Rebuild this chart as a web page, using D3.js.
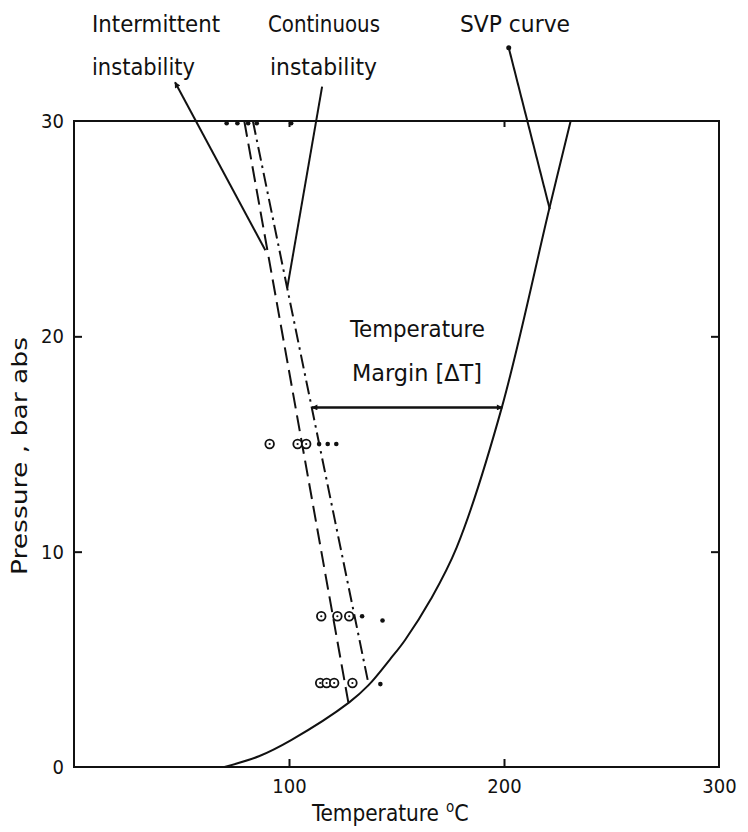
<!DOCTYPE html>
<html>
<head>
<meta charset="utf-8">
<script src="https://d3js.org/d3.v7.min.js"></script>
<style>
  body { margin: 0; background: #fff; }
  svg text { font-family: "DejaVu Sans Condensed", "DejaVu Sans", sans-serif; font-stretch: condensed; fill: #111; }
</style>
</head>
<body>
<svg id="chart" width="748" height="832"></svg>
<script>
// saturated vapour pressure curve (T in degC, P in bar abs)
var svpT = [70, 86, 101, 128, 137, 147, 154, 166, 178, 199, 221, 231];
var svpP = [0, 0.5, 1.25, 3.0, 3.8, 5.0, 5.9, 7.8, 10.2, 16.7, 25.9, 30];

// instability boundaries
var intermittentT = [79.2, 127.6];
var intermittentP = [30, 3.0];
var continuousT = [83.2, 137.1];
var continuousP = [30, 3.8];

// observed points: open circles and solid dots
var circleT = [91, 104, 108, 115, 122.5, 128, 114.5, 117.5, 121, 129.5];
var circleP = [15, 15, 15, 7, 7, 7, 3.9, 3.9, 3.9, 3.9];
var dotT = [71, 76, 81, 85, 101, 114, 118, 122, 134, 143.5, 142.5];
var dotP = [29.9, 29.9, 29.9, 29.9, 29.9, 15, 15, 15, 7, 6.8, 3.85];

// leader lines from the labels
var leaderIntT = [47, 89], leaderIntP = [31.8, 24.0];
var leaderConT = [115.4, 99.2], leaderConP = [31.6, 22.25];
var leaderSvpT = [202.2, 221.3], leaderSvpP = [33.4, 25.9];

// temperature margin arrow
var marginP = 16.7, marginFrom = 110.7, marginTo = 199.2;

var xTicks = [100, 200, 300];
var yTicks = [0, 10, 20, 30];

var svg = d3.select("#chart");
var x = d3.scaleLinear().domain([0, 300]).range([74, 719]);
var y = d3.scaleLinear().domain([0, 30]).range([767, 121]);

function pts(ts, ps) {
  return ts.map(function(t, i) { return [t, ps[i]]; });
}
var line = d3.line().x(function(d) { return x(d[0]); }).y(function(d) { return y(d[1]); });

// arrow heads
var defs = svg.append("defs");
defs.append("marker")
  .attr("id", "head")
  .attr("viewBox", "0 0 10 10")
  .attr("refX", 9).attr("refY", 5)
  .attr("markerWidth", 12).attr("markerHeight", 6)
  .attr("markerUnits", "userSpaceOnUse")
  .attr("orient", "auto-start-reverse")
  .append("path").attr("d", "M0,0L10,5L0,10z").attr("fill", "#111");
defs.append("marker")
  .attr("id", "small")
  .attr("viewBox", "0 0 10 10")
  .attr("refX", 9).attr("refY", 5)
  .attr("markerWidth", 8).attr("markerHeight", 6)
  .attr("markerUnits", "userSpaceOnUse")
  .attr("orient", "auto-start-reverse")
  .append("path").attr("d", "M0,0L10,5L0,10z").attr("fill", "#111");

// frame
svg.append("rect")
  .attr("x", x(0)).attr("y", y(30))
  .attr("width", x(300) - x(0)).attr("height", y(0) - y(30))
  .attr("fill", "none").attr("stroke", "#111").attr("stroke-width", 2);

// axes (ticks point inwards)
var gx = svg.append("g").attr("transform", "translate(0," + y(0) + ")")
  .call(d3.axisBottom(x).tickValues(xTicks).tickSizeInner(-8).tickSizeOuter(0).tickPadding(12));
var gy = svg.append("g").attr("transform", "translate(" + x(0) + ",0)")
  .call(d3.axisLeft(y).tickValues(yTicks).tickSizeInner(-8).tickSizeOuter(0).tickPadding(10));
var gr = svg.append("g").attr("transform", "translate(" + x(300) + ",0)")
  .call(d3.axisRight(y).tickValues([10, 20]).tickSizeInner(-8).tickSizeOuter(0).tickFormat(""));
var gt = svg.append("g").attr("transform", "translate(0," + y(30) + ")")
  .call(d3.axisTop(x).tickValues([100, 200]).tickSizeInner(-6).tickSizeOuter(0).tickFormat(""));
[gx, gy, gr, gt].forEach(function(g) {
  g.select(".domain").remove();
  g.selectAll("line").attr("stroke", "#111").attr("stroke-width", 2);
  g.selectAll("text").attr("font-size", 20).attr("fill", "#111")
    .attr("font-family", null);
});
gx.selectAll(".tick").filter(function(d) { return d === 300; }).select("line").remove();
gy.selectAll(".tick").filter(function(d) { return d === 0 || d === 30; }).select("line").remove();

// axis titles
svg.append("text")
  .attr("transform", "translate(27,456) rotate(-90)")
  .attr("text-anchor", "middle").attr("font-size", 21)
  .attr("textLength", 238).attr("lengthAdjust", "spacingAndGlyphs")
  .text("Pressure , bar abs");
svg.append("text")
  .attr("x", 312).attr("y", 821).attr("font-size", 23)
  .attr("textLength", 127).attr("lengthAdjust", "spacingAndGlyphs")
  .text("Temperature");
var deg = svg.append("text")
  .attr("x", 446).attr("y", 821).attr("font-size", 23);
deg.append("tspan").attr("dy", -9).attr("font-size", 15).text("o");
deg.append("tspan").attr("dy", 9).text("C");

// SVP curve
svg.append("path")
  .datum(pts(svpT, svpP))
  .attr("d", line.curve(d3.curveCatmullRom.alpha(0.5)))
  .attr("fill", "none").attr("stroke", "#111").attr("stroke-width", 2);
line.curve(d3.curveLinear);

// instability lines
svg.append("path")
  .datum(pts(intermittentT, intermittentP))
  .attr("d", line)
  .attr("fill", "none").attr("stroke", "#111").attr("stroke-width", 2)
  .attr("stroke-dasharray", "16,7");
svg.append("path")
  .datum(pts(continuousT, continuousP))
  .attr("d", line)
  .attr("fill", "none").attr("stroke", "#111").attr("stroke-width", 2)
  .attr("stroke-dasharray", "14,5,2.5,5");

// leaders
svg.append("path")
  .datum(pts(leaderIntT, leaderIntP))
  .attr("d", line)
  .attr("fill", "none").attr("stroke", "#111").attr("stroke-width", 2)
  .attr("marker-start", "url(#small)");
svg.append("path")
  .datum(pts(leaderConT, leaderConP))
  .attr("d", line)
  .attr("fill", "none").attr("stroke", "#111").attr("stroke-width", 2);
svg.append("path")
  .datum(pts(leaderSvpT, leaderSvpP))
  .attr("d", line)
  .attr("fill", "none").attr("stroke", "#111").attr("stroke-width", 2);
svg.append("circle")
  .attr("cx", x(leaderSvpT[0])).attr("cy", y(leaderSvpP[0])).attr("r", 2.5)
  .attr("fill", "#111");

// observed points
var circ = svg.append("g").selectAll("g")
  .data(pts(circleT, circleP)).enter().append("g")
  .attr("transform", function(d) { return "translate(" + x(d[0]) + "," + y(d[1]) + ")"; });
circ.append("circle").attr("r", 4.3).attr("fill", "#fff").attr("stroke", "#111").attr("stroke-width", 1.8);
circ.append("circle").attr("r", 1.1).attr("fill", "#111");

svg.append("g").selectAll("circle")
  .data(pts(dotT, dotP)).enter().append("circle")
  .attr("cx", function(d) { return x(d[0]); })
  .attr("cy", function(d) { return y(d[1]); })
  .attr("r", 2.3).attr("fill", "#111");

// temperature margin
svg.append("line")
  .attr("x1", x(marginFrom)).attr("x2", x(marginTo))
  .attr("y1", y(marginP)).attr("y2", y(marginP))
  .attr("stroke", "#111").attr("stroke-width", 2.5)
  .attr("marker-start", "url(#head)").attr("marker-end", "url(#head)");

// labels: text, left x, baseline y, width
var labels = [
  ["Intermittent", 92, 32, 128], ["instability", 92, 75, 103],
  ["Continuous", 268, 32, 112], ["instability", 270, 75, 107],
  ["SVP curve", 460, 32, 110],
  ["Temperature", 350, 337, 135], ["Margin [ΔT]", 352, 381, 130]
];
svg.append("g").selectAll("text").data(labels).enter().append("text")
  .attr("x", function(d) { return d[1]; })
  .attr("y", function(d) { return d[2]; })
  .attr("font-size", 23)
  .attr("textLength", function(d) { return d[3]; })
  .attr("lengthAdjust", "spacingAndGlyphs")
  .text(function(d) { return d[0]; });
</script>
</body>
</html>
